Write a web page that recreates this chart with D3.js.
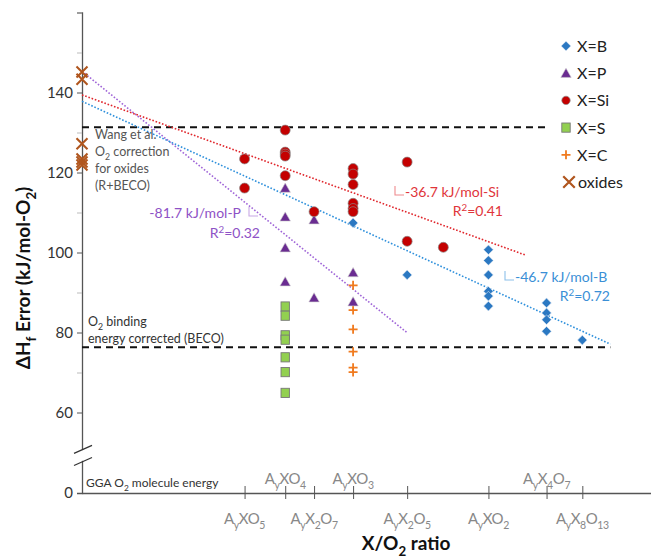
<!DOCTYPE html>
<html>
<head>
<meta charset="utf-8">
<script src="https://cdn.jsdelivr.net/npm/d3@7"></script>
<style>
  body { margin: 0; background: #fff; }
  svg { font-family: Lato, "Open Sans", sans-serif; }
</style>
</head>
<body>
<svg width="651" height="560"></svg>
<script>
// X/O2 ratio of each composition and its label (_{} = subscript)
const catRatio = [0.4, 0.5, 0.571, 0.667, 0.8, 1.0, 1.143, 1.231];
const catLabel = ['A_{y}XO_{5}', 'A_{y}XO_{4}', 'A_{y}X_{2}O_{7}', 'A_{y}XO_{3}', 'A_{y}X_{2}O_{5}', 'A_{y}XO_{2}', 'A_{y}X_{4}O_{7}', 'A_{y}X_{8}O_{13}'];
const catAbove = [false, true, false, true, false, false, true, false];

// [X/O2 ratio, error kJ/mol-O2]
const seriesB = [[0.667, 107.4], [0.8, 94.4], [1.0, 100.7], [1.0, 98.0], [1.0, 94.4], [1.0, 90.3], [1.0, 89.1], [1.0, 86.6],
  [1.143, 87.4], [1.143, 84.9], [1.143, 83.2], [1.143, 80.3], [1.231, 78.1]];
const seriesP = [[0.5, 116.1], [0.5, 108.9], [0.5, 101.2], [0.5, 92.7], [0.571, 108.2], [0.571, 88.7], [0.667, 95.0], [0.667, 87.7]];
const seriesSi = [[0.4, 123.4], [0.4, 116.1], [0.5, 130.6], [0.5, 125.1], [0.5, 124.6], [0.5, 124.1], [0.5, 119.2],
  [0.571, 110.2], [0.667, 121.0], [0.667, 119.6], [0.667, 117.0], [0.667, 112.3], [0.667, 111.0], [0.667, 110.2],
  [0.8, 122.6], [0.8, 102.8], [0.889, 101.3]];
const seriesS = [[0.5, 86.5], [0.5, 84.2], [0.5, 79.3], [0.5, 78.2], [0.5, 73.8], [0.5, 70.1], [0.5, 64.9]];
const seriesC = [[0.667, 91.8], [0.667, 85.6], [0.667, 80.8], [0.667, 75.2], [0.667, 71.2], [0.667, 70.1]];
const seriesOx = [[0, 145.1], [0, 143.3], [0, 127.2], [0, 123.4], [0, 122.6], [0, 121.9]];

// linear fits (P, Si, B)
const fitSlope = [-81.7, -36.7, -46.7];
const fitIntercept = [145.3, 139.4, 137.8];
const fitEnd = [0.8, 1.09, 1.3];
const fitColor = ['#a066d8', '#e0262c', '#2e90dc'];

// correction levels: Wang et al. (R+BECO), BECO
const refLevels = [131.3, 76.3];

const yTicks = [0, 60, 70, 80, 90, 100, 110, 120, 130, 140, 150, 160];
const yLabeled = [0, 60, 80, 100, 120, 140];

const svg = d3.select('svg');
const x = d3.scaleLinear().domain([0, 1.4]).range([82, 651]);
const y = d3.scaleLinear().domain([0, 60, 160]).range([493, 412.5, 12.5]);

function rich(text, str, size) {
  const parts = str.split(/(_\{[^}]*\}|\^\{[^}]*\})/).filter(s => s);
  let shift = 0;
  parts.forEach(p => {
    let target = 0, txt = p, fs = size;
    if (p.startsWith('_{')) { target = size * 0.3; txt = p.slice(2, -1); fs = size * 0.7; }
    else if (p.startsWith('^{')) { target = -size * 0.38; txt = p.slice(2, -1); fs = size * 0.7; }
    text.append('tspan').attr('dy', target - shift).attr('font-size', fs).text(txt);
    shift = target;
  });
}

// y axis
const yAxis = svg.append('g').attr('transform', `translate(${x(0)},0)`)
  .call(d3.axisLeft(y).tickValues(yTicks).tickSize(5).tickPadding(4)
    .tickFormat(d => yLabeled.includes(d) ? d : ''));
yAxis.select('.domain').attr('stroke', '#555').attr('stroke-width', 1.3);
yAxis.selectAll('.tick line').attr('stroke', d => yLabeled.includes(d) ? '#555' : '#bbb');
yAxis.selectAll('.tick text').attr('font-size', 15).attr('fill', '#333').attr('font-family', 'Lato');

// axis break
svg.append('rect').attr('x', x(0) - 3).attr('y', y(32)).attr('width', 6).attr('height', y(24) - y(32)).attr('fill', '#fff');
[32.5, 23.5].forEach(v => {
  svg.append('line').attr('x1', x(0) - 8).attr('x2', x(0) + 10)
    .attr('y1', y(v) + 4).attr('y2', y(v) - 4).attr('stroke', '#333').attr('stroke-width', 1.2);
});

// x axis
const xAxis = svg.append('g').attr('transform', `translate(0,${y(0)})`)
  .call(d3.axisBottom(x).tickValues(catRatio).tickSizeInner(6).tickSizeOuter(0).tickFormat(''));
xAxis.select('.domain').attr('stroke', '#555').attr('stroke-width', 1.3);
xAxis.selectAll('.tick line').attr('y1', -7).attr('y2', 6).attr('stroke', '#555');

catRatio.forEach((r, i) => {
  const t = svg.append('text').attr('x', x(r)).attr('y', catAbove[i] ? y(0) - 9 : y(0) + 31)
    .attr('text-anchor', 'middle').attr('fill', '#888').attr('letter-spacing', -0.4);
  rich(t, catLabel[i], 15);
});

// titles
const xt = svg.append('text').attr('x', 406).attr('y', 550).attr('text-anchor', 'middle')
  .attr('font-weight', 'bold').attr('fill', '#111');
rich(xt, 'X/O_{2} ratio', 19);
const yt = svg.append('text').attr('transform', 'translate(30,278) rotate(-90)').attr('text-anchor', 'middle')
  .attr('font-weight', 'bold').attr('fill', '#111');
rich(yt, 'ΔH_{f} Error (kJ/mol-O_{2})', 19);

// reference dashed lines
svg.selectAll('.ref').data(refLevels).join('line').attr('class', 'ref')
  .attr('x1', x(0)).attr('x2', x(1.3)).attr('y1', d => y(d)).attr('y2', d => y(d))
  .attr('stroke', '#111').attr('stroke-width', 2).attr('stroke-dasharray', '7,5');

// fit lines
fitSlope.forEach((s, i) => {
  svg.append('line').attr('x1', x(0)).attr('y1', y(fitIntercept[i]))
    .attr('x2', x(fitEnd[i])).attr('y2', y(fitIntercept[i] + s * fitEnd[i]))
    .attr('stroke', fitColor[i]).attr('stroke-width', 1.6).attr('stroke-dasharray', '1.6,1.8');
});

// marker drawing
const markers = {
  B: g => g.append('path').attr('d', 'M0,-4.8L4.8,0L0,4.8L-4.8,0Z').attr('fill', '#2b78c2').attr('stroke', '#dfe8f2').attr('stroke-width', 0.6),
  P: g => g.append('path').attr('d', 'M0,-5L5.2,4.2L-5.2,4.2Z').attr('fill', '#6a2c91').attr('stroke', '#ccc').attr('stroke-width', 0.6),
  Si: g => g.append('circle').attr('r', 5).attr('fill', '#c40000').attr('stroke', '#888').attr('stroke-width', 0.7),
  S: g => g.append('rect').attr('x', -4.2).attr('y', -4.6).attr('width', 8.4).attr('height', 9.2).attr('fill', '#92d050').attr('stroke', '#777').attr('stroke-width', 0.9),
  C: g => g.append('path').attr('d', 'M-4.5,0H4.5M0,-4.5V4.5').attr('stroke', '#f07a1e').attr('stroke-width', 1.8),
  Ox: g => g.append('path').attr('d', 'M-5.5,-5.5L5.5,5.5M-5.5,5.5L5.5,-5.5').attr('stroke', '#b0561e').attr('stroke-width', 2.1)
};
function plot(data, key) {
  svg.append('g').selectAll('g').data(data).join('g')
    .attr('transform', d => `translate(${x(d[0])},${y(d[1])})`)
    .each(function () { markers[key](d3.select(this)); });
}
plot(seriesS, 'S');
plot(seriesC, 'C');
plot(seriesP, 'P');
plot(seriesSi, 'Si');
plot(seriesB, 'B');
plot(seriesOx, 'Ox');

// annotations
function note(lines, x0, y0, anchor, color) {
  lines.forEach((l, i) => {
    const t = svg.append('text').attr('x', x0).attr('y', y0 + i * 17).attr('text-anchor', anchor).attr('fill', color);
    rich(t, l, 12.5);
  });
}
note(['Wang et al.', 'O_{2} correction', 'for oxides', '(R+BECO)'], 95, 139, 'start', '#555');
note(['O_{2} binding', 'energy corrected (BECO)'], 88, 326, 'start', '#333');
const g0 = svg.append('text').attr('x', 86).attr('y', 487).attr('fill', '#333');
rich(g0, 'GGA O_{2} molecule energy', 12);

function slopeMark(x0, y0, color) {
  svg.append('path').attr('d', `M${x0},${y0 - 9}V${y0}H${x0 + 9}`).attr('fill', 'none')
    .attr('stroke', color).attr('stroke-width', 1.1);
}
const fitText = ['#8e52c6', '#e0343a', '#3a8fd6'];
const fitR2 = ['0.32', '0.41', '0.72'];
const fitUnit = ['P', 'Si', 'B'];
// P
svg.append('text').attr('x', 241).attr('y', 218).attr('text-anchor', 'end').attr('fill', fitText[0])
  .attr('font-size', 14).text(`${fitSlope[0]} kJ/mol-${fitUnit[0]}`);
slopeMark(249, 216, '#c8a8e6');
rich(svg.append('text').attr('x', 260).attr('y', 238).attr('text-anchor', 'end').attr('fill', fitText[0]), `R^{2}=${fitR2[0]}`, 14);
// Si
slopeMark(395, 195, '#ee8a8e');
svg.append('text').attr('x', 405).attr('y', 197).attr('fill', fitText[1])
  .attr('font-size', 14).text(`${fitSlope[1]} kJ/mol-${fitUnit[1]}`);
rich(svg.append('text').attr('x', 503).attr('y', 216).attr('text-anchor', 'end').attr('fill', fitText[1]), `R^{2}=${fitR2[1]}`, 14);
// B
slopeMark(505, 280, '#8cc0ea');
svg.append('text').attr('x', 515).attr('y', 282).attr('fill', fitText[2])
  .attr('font-size', 14).text(`${fitSlope[2]} kJ/mol-${fitUnit[2]}`);
rich(svg.append('text').attr('x', 610).attr('y', 301).attr('text-anchor', 'end').attr('fill', fitText[2]), `R^{2}=${fitR2[2]}`, 14);

// legend
const legendKeys = ['B', 'P', 'Si', 'S', 'C', 'Ox'];
const legendNames = ['X=B', 'X=P', 'X=Si', 'X=S', 'X=C', 'oxides'];
svg.append('rect').attr('x', 548).attr('y', 30).attr('width', 103).attr('height', 166).attr('fill', '#fff');
legendKeys.forEach((k, i) => {
  const g = svg.append('g').attr('transform', `translate(566,${46 + i * 27.2})`);
  markers[k](g);
  if (k === 'Si') g.select('circle').attr('r', 4.2);
  if (k === 'Ox') g.attr('transform', `translate(569,${46 + i * 27.2}) scale(1.05)`);
  svg.append('text').attr('x', k === 'Ox' ? 578 : 577).attr('y', 46 + i * 27.2 + 6).attr('font-size', 16)
    .attr('fill', '#222').text(legendNames[i]);
});
</script>
</body>
</html>
